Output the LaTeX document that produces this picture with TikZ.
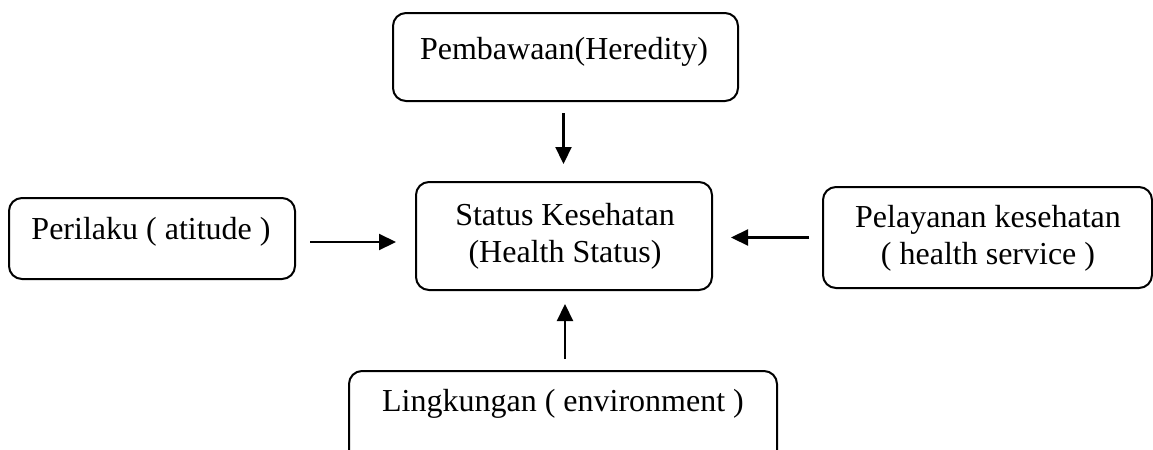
\documentclass[tikz,border=0pt]{standalone}
\usepackage{fontspec}
\setmainfont{Liberation Serif}
\usetikzlibrary{arrows.meta}
\begin{document}
\begin{tikzpicture}[x=0.5pt,y=-0.5pt,
  box/.style={draw=black, line width=1pt, rounded corners=6.5pt, inner sep=0pt},
  lbl/.style={anchor=base, inner sep=0pt, font=\fontsize{16pt}{18.5pt}\selectfont},
  arr/.style={line width=1.1pt, -{Triangle[length=8.5pt,width=8pt]}}]
\path[use as bounding box, clip] (0,0) rectangle (1153,450);
% boxes
\node[box, minimum width=172.5pt, minimum height=44pt] (hered) at (565.5,57) {};
\node[box, minimum width=148pt, minimum height=54pt] (status) at (564,236) {};
\node[box, minimum width=143pt, minimum height=40.5pt] (perilaku) at (152,238.5) {};
\node[box, minimum width=164.5pt, minimum height=50.5pt] (pelayanan) at (987.5,237.5) {};
\node[box, minimum width=214pt, minimum height=60pt] (lingkungan) at (563,431) {};
% texts
\node[lbl] (t1) at (564,59) {Pembawaan(Heredity)};
\node[lbl] (t2) at (151,239) {Perilaku ( atitude )};
\node[lbl] (t3) at (565,225) {Status Kesehatan};
\node[lbl] (t4) at (565,262) {(Health Status)};
\node[lbl] (t5) at (988,227) {Pelayanan kesehatan};
\node[lbl] (t6) at (988,264) {( health service )};
\node[lbl] (t7) at (563,411) {Lingkungan ( environment )};
% arrows
\draw[arr, shorten <=5.5pt, shorten >=8.5pt] ([xshift=-1pt]hered.south) -- ([xshift=-1pt]hered.south |- status.north);
\draw[arr, shorten <=7pt, shorten >=9.5pt] ([yshift=-1.75pt]perilaku.east) -- ([yshift=-1.75pt]perilaku.east -| status.west);
\draw[arr, shorten <=6.5pt, shorten >=9pt] (pelayanan.west) -- (pelayanan.west -| status.east);
\draw[arr, shorten <=5.5pt, shorten >=6.5pt] ([xshift=1pt]lingkungan.north) -- ([xshift=1pt]lingkungan.north |- status.south);
\end{tikzpicture}
\end{document}
